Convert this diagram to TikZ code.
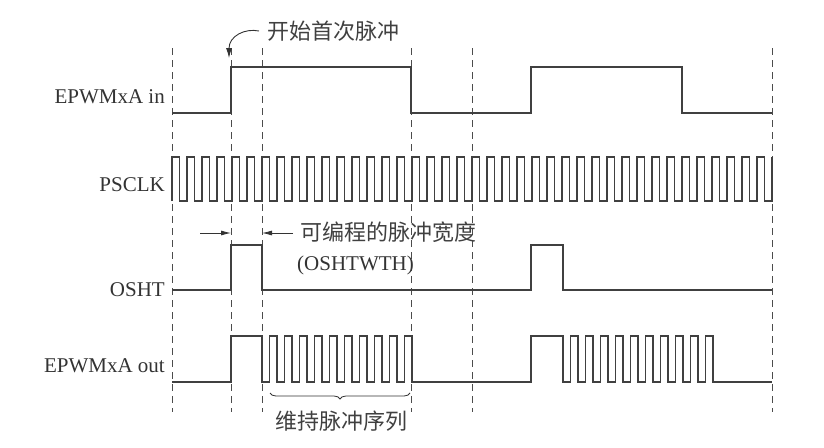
\documentclass[tikz,border=0pt]{standalone}
\usepackage{fontspec}
\setmainfont{Liberation Serif}
\newfontfamily\cjk{Noto Sans CJK SC}
\usetikzlibrary{decorations.pathreplacing,arrows.meta}
\begin{document}
\begin{tikzpicture}[x=1pt,y=-1pt,
  wave/.style={line width=1.2pt,color=black!75},
  guide/.style={dashed,dash pattern=on 7pt off 5pt,line width=0.6pt,color=black!70},
  lbl/.style={anchor=east,font=\fontsize{21}{23}\selectfont,text=black!80,inner sep=0pt},
  cn/.style={font=\cjk\fontsize{22}{24}\selectfont,text=black!75,inner sep=0pt}]
\useasboundingbox (0,0) rectangle (824,447);
% guides
\foreach \x in {172,231,262,411,472,772}
  \draw[guide] (\x,48) -- (\x,412);
% labels
\node[lbl] (l1) at (165,97) {EPWMxA in};
\node[lbl] (l2) at (165,185) {PSCLK};
\node[lbl] (l3) at (165,290) {OSHT};
\node[lbl] (l4) at (165,366) {EPWMxA out};
% EPWMxA in
\draw[wave] (172,113) -- (231,113) -- (231,67) -- (411,67) -- (411,113) -- (531,113) -- (531,67) -- (682,67) -- (682,113) -- (772,113);
% PSCLK
\draw[wave] (172,201) \foreach \k in {0,...,39} { -- ({172+15*\k},201) -- ({172+15*\k},157) -- ({179.5+15*\k},157) -- ({179.5+15*\k},201) } -- (772,201) -- (772,157);
% OSHT
\draw[wave] (172,290) -- (231,290) -- (231,245) -- (262,245) -- (262,290) -- (531,290) -- (531,245) -- (563,245) -- (563,290) -- (772,290);
% EPWMxA out
\draw[wave] (172,382) -- (231,382) -- (231,336) -- (262,336) -- (262,382)
  \foreach \k in {0,...,9} { -- ({269.5+15*\k},382) -- ({269.5+15*\k},336) -- ({277+15*\k},336) -- ({277+15*\k},382) }
  -- (531,382) -- (531,336) -- (563,336) -- (563,382)
  \foreach \k in {0,...,9} { -- ({570.5+15*\k},382) -- ({570.5+15*\k},336) -- ({578+15*\k},336) -- ({578+15*\k},382) }
  -- (772,382);
% title
\node[cn,anchor=west] (t1) at (267,31) {开始首次脉冲};
\coordinate (t1s) at (259,31);
\draw[line width=0.9pt,black!80,-{Latex[length=10pt,width=6pt]}] (t1s) .. controls (245,28) and (229,36) .. (229,58);
% width annotation
\coordinate (a1) at (200,233);
\coordinate (a2) at (231,233);
\coordinate (b1) at (293,233);
\coordinate (b2) at (262,233);
\draw[line width=0.8pt,black!80,-{Latex[length=10pt,width=5pt]}] (a1) -- (a2);
\draw[line width=0.8pt,black!80,-{Latex[length=10pt,width=5pt]}] (b1) -- (b2);
\node[cn,anchor=west] (t2) at (300,232) {可编程的脉冲宽度};
\node[lbl,anchor=west] (t3) at (297,265) {(OSHTWTH)};
% brace
\draw[line width=0.8pt,black!80,decorate,decoration={brace,mirror,amplitude=6pt}] (270,393) -- (410,393);
\node[cn] (t4) at (341,421) {维持脉冲序列};
\end{tikzpicture}
\end{document}
